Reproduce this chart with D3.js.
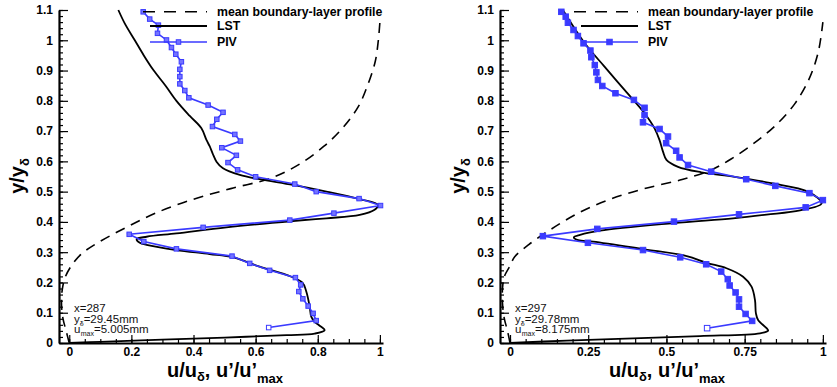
<!DOCTYPE html>
<html>
<head>
<meta charset="utf-8">
<script src="https://cdn.jsdelivr.net/npm/d3@7"></script>
<style>
  body { margin: 0; background: #fff; }
  svg { display: block; }
  text { font-family: Arial, "Liberation Sans", sans-serif; }
</style>
</head>
<body>
<svg id="chart" width="837" height="387"></svg>
<script>
// ---- data ----
const yTicks = [0, 0.1, 0.2, 0.3, 0.4, 0.5, 0.6, 0.7, 0.8, 0.9, 1, 1.1];
const leftXTicks = [0, 0.2, 0.4, 0.6, 0.8, 1];
const rightXTicks = [0, 0.25, 0.5, 0.75, 1];
const legendLabels = ["mean boundary-layer profile", "LST", "PIV"];

// mean boundary-layer profile (dashed)
const leftMeanU = [0, -0.01, -0.02, -0.025, -0.022, -0.012, 0.01, 0.04, 0.09, 0.18, 0.28, 0.4, 0.52, 0.65, 0.74, 0.82, 0.88, 0.93, 0.96, 0.985, 0.995, 1.0];
const leftMeanY = [0, 0.04, 0.08, 0.13, 0.18, 0.22, 0.26, 0.295, 0.33, 0.38, 0.43, 0.475, 0.51, 0.545, 0.59, 0.65, 0.71, 0.78, 0.85, 0.93, 1.0, 1.06];
const rightMeanU = [0, -0.008, -0.018, -0.024, -0.024, -0.018, 0, 0.015, 0.06, 0.13, 0.22, 0.32, 0.43, 0.55, 0.64, 0.71, 0.78, 0.85, 0.91, 0.955, 0.985, 1.0];
const rightMeanY = [0, 0.04, 0.08, 0.13, 0.18, 0.22, 0.255, 0.285, 0.325, 0.375, 0.43, 0.475, 0.51, 0.54, 0.57, 0.61, 0.66, 0.72, 0.79, 0.87, 0.96, 1.06];

// LST (solid black)
const leftLstU = [0.158, 0.179, 0.211, 0.24, 0.272, 0.31, 0.345, 0.388, 0.425, 0.442, 0.452, 0.462, 0.474, 0.495, 0.549, 0.613, 0.72, 0.828, 0.935, 0.994, 0.983, 0.935, 0.828, 0.72, 0.506, 0.345, 0.249, 0.217, 0.227, 0.249, 0.345, 0.452, 0.528, 0.613, 0.699, 0.75, 0.763, 0.774, 0.779, 0.79, 0.805, 0.822, 0.79, 0.7, 0.5, 0.3, 0.1, 0];
const leftLstY = [1.1, 1.055, 1.0, 0.95, 0.9, 0.85, 0.8, 0.75, 0.71, 0.67, 0.65, 0.625, 0.599, 0.577, 0.555, 0.541, 0.522, 0.5, 0.475, 0.456, 0.44, 0.423, 0.412, 0.403, 0.382, 0.362, 0.351, 0.343, 0.331, 0.324, 0.307, 0.294, 0.283, 0.252, 0.225, 0.2, 0.17, 0.12, 0.087, 0.07, 0.058, 0.042, 0.031, 0.026, 0.018, 0.011, 0.004, 0];
const rightLstU = [0.169, 0.239, 0.302, 0.366, 0.43, 0.462, 0.478, 0.489, 0.5, 0.537, 0.611, 0.718, 0.835, 0.952, 0.996, 0.927, 0.82, 0.713, 0.522, 0.288, 0.224, 0.204, 0.218, 0.266, 0.426, 0.565, 0.628, 0.692, 0.745, 0.772, 0.783, 0.786, 0.793, 0.82, 0.825, 0.799, 0.607, 0.394, 0.181, 0];
const rightLstY = [1.1, 0.99, 0.913, 0.836, 0.759, 0.709, 0.67, 0.632, 0.605, 0.582, 0.564, 0.549, 0.528, 0.5, 0.461, 0.438, 0.424, 0.412, 0.396, 0.371, 0.357, 0.349, 0.34, 0.335, 0.31, 0.287, 0.265, 0.247, 0.219, 0.186, 0.142, 0.098, 0.076, 0.049, 0.041, 0.032, 0.023, 0.015, 0.008, 0];

// PIV (blue, squares)
const leftPivU = [0.238, 0.259, 0.287, 0.284, 0.313, 0.329, 0.343, 0.361, 0.356, 0.356, 0.356, 0.372, 0.385, 0.447, 0.495, 0.475, 0.461, 0.533, 0.551, 0.491, 0.538, 0.511, 0.542, 0.6, 0.726, 0.795, 0.933, 1.002, 0.852, 0.71, 0.431, 0.193, 0.24, 0.345, 0.524, 0.581, 0.645, 0.728, 0.745, 0.739, 0.752, 0.769, 0.785, 0.795, 0.642];
const leftPivY = [1.094, 1.07, 1.05, 1.023, 1.001, 0.976, 0.954, 0.929, 0.904, 0.88, 0.856, 0.834, 0.81, 0.786, 0.762, 0.739, 0.715, 0.689, 0.667, 0.645, 0.62, 0.596, 0.572, 0.549, 0.525, 0.5, 0.477, 0.454, 0.429, 0.406, 0.382, 0.359, 0.335, 0.311, 0.287, 0.263, 0.24, 0.216, 0.192, 0.17, 0.146, 0.122, 0.098, 0.074, 0.051];
const rightPivU = [0.164, 0.178, 0.185, 0.203, 0.217, 0.235, 0.257, 0.26, 0.271, 0.276, 0.281, 0.295, 0.337, 0.396, 0.43, 0.43, 0.425, 0.478, 0.505, 0.499, 0.531, 0.542, 0.569, 0.643, 0.755, 0.848, 0.957, 1.0, 0.945, 0.732, 0.524, 0.279, 0.105, 0.249, 0.425, 0.544, 0.627, 0.675, 0.696, 0.702, 0.721, 0.732, 0.732, 0.753, 0.774, 0.63];
const rightPivY = [1.094, 1.078, 1.058, 1.034, 1.014, 0.99, 0.966, 0.944, 0.918, 0.894, 0.869, 0.849, 0.825, 0.803, 0.777, 0.753, 0.729, 0.707, 0.682, 0.66, 0.635, 0.613, 0.588, 0.566, 0.541, 0.519, 0.495, 0.472, 0.448, 0.425, 0.401, 0.377, 0.353, 0.331, 0.307, 0.283, 0.26, 0.236, 0.211, 0.19, 0.167, 0.144, 0.12, 0.096, 0.073, 0.049];

// station info
const leftInfo = ["287", "29.45mm", "5.005mm"];
const rightInfo = ["297", "29.78mm", "8.175mm"];

const blue = "#3a3aff";
const svg = d3.select("#chart");
svg.append("rect").attr("width", 837).attr("height", 387).attr("fill", "#fff");

function zip(us, ys) {
  return us.map((u, i) => ({ u: u, y: ys[i] }));
}

function drawPanel(p) {
  const x = d3.scaleLinear().domain([p.uMin, 1.01]).range([p.x0, p.x1]);
  const y = d3.scaleLinear().domain([0, 1.1]).range([343, 10]);
  const g = svg.append("g");

  // minor ticks first
  const minorX = d3.range(0, 1.0001, 0.05);
  const minorY = d3.range(0, 1.1001, 0.02);
  g.append("g")
    .attr("transform", "translate(0,343)")
    .call(d3.axisBottom(x).tickValues(minorX).tickSize(-4).tickFormat(""))
    .call((a) => a.select(".domain").remove());
  g.append("g")
    .attr("transform", `translate(${p.x0},0)`)
    .call(d3.axisLeft(y).tickValues(minorY).tickSize(-4).tickFormat(""))
    .call((a) => a.select(".domain").remove());

  const xAxis = g.append("g")
    .attr("transform", "translate(0,343)")
    .call(d3.axisBottom(x).tickValues(p.xTicks).tickFormat((d) => String(d))
      .tickSize(-8).tickSizeOuter(0).tickPadding(4));
  const yAxis = g.append("g")
    .attr("transform", `translate(${p.x0},0)`)
    .call(d3.axisLeft(y).tickValues(yTicks).tickFormat((d) => String(d))
      .tickSize(-9).tickSizeOuter(0).tickPadding(6));

  [xAxis, yAxis].forEach((a) => {
    a.select(".domain").attr("stroke-width", 2.2);
    a.selectAll("text").attr("font-size", 12).attr("font-weight", "bold").attr("fill", "#000");
  });
  g.selectAll(".tick line").attr("stroke-width", 1.2);

  const line = d3.line().x((d) => x(d.u)).y((d) => y(d.y));

  g.append("path")
    .attr("d", line.curve(d3.curveCatmullRom.alpha(0.5))(zip(p.meanU, p.meanY)))
    .attr("fill", "none").attr("stroke", "#000").attr("stroke-width", 1.6)
    .attr("stroke-dasharray", "10,7");

  g.append("path")
    .attr("d", line.curve(d3.curveCatmullRom.alpha(0.5))(zip(p.lstU, p.lstY)))
    .attr("fill", "none").attr("stroke", "#000").attr("stroke-width", 1.8);

  const piv = zip(p.pivU, p.pivY);
  g.append("path")
    .attr("d", line.curve(d3.curveLinear)(piv))
    .attr("fill", "none").attr("stroke", blue).attr("stroke-width", 1.6);

  const s = p.markSize;
  g.selectAll("rect.mk").data(piv).enter().append("rect")
    .attr("x", (d) => x(d.u) - s / 2).attr("y", (d) => y(d.y) - s / 2)
    .attr("width", s).attr("height", s)
    .attr("fill", (d, i) => (i === piv.length - 1 ? "#fff" : p.markFill))
    .attr("stroke", blue).attr("stroke-width", 1);

  // legend
  const lg = g.append("g");
  const lx = p.legendX;
  lg.append("line").attr("x1", lx - 74).attr("x2", lx - 10).attr("y1", 11.7).attr("y2", 11.7)
    .attr("stroke", "#000").attr("stroke-width", 1.6).attr("stroke-dasharray", "12,9");
  lg.append("line").attr("x1", lx - 67).attr("x2", lx - 10).attr("y1", 26).attr("y2", 26)
    .attr("stroke", "#000").attr("stroke-width", 1.8);
  lg.append("line").attr("x1", lx - 67).attr("x2", lx - 10).attr("y1", 42).attr("y2", 42)
    .attr("stroke", blue).attr("stroke-width", 1.6);
  lg.append("rect").attr("x", lx - 38.5 - s / 2).attr("y", 42 - s / 2).attr("width", s).attr("height", s)
    .attr("fill", p.markFill).attr("stroke", blue).attr("stroke-width", 1);
  [15.7, 30, 45.7].forEach((by, i) => {
    lg.append("text").attr("x", lx).attr("y", by).attr("font-size", 12.3)
      .attr("font-weight", "bold").text(legendLabels[i]);
  });

  // axis titles
  const yt = g.append("text")
    .attr("transform", `translate(${p.yTitleX},176) rotate(-90)`)
    .attr("text-anchor", "middle").attr("font-size", 20).attr("font-weight", "bold");
  yt.append("tspan").text("y/y");
  yt.append("tspan").attr("font-size", 13).attr("dy", 5).text("δ");

  const xt = g.append("text")
    .attr("x", (p.x0 + p.x1) / 2 + 4).attr("y", 377)
    .attr("text-anchor", "middle").attr("font-size", 20).attr("font-weight", "bold");
  xt.append("tspan").text("u/u");
  xt.append("tspan").attr("font-size", 13).attr("dy", 4).text("δ");
  xt.append("tspan").attr("dy", -4).text(", u’/u’");
  xt.append("tspan").attr("font-size", 13).attr("dy", 6).text("max");

  // station annotation
  const ax = p.x0 + 15;
  const info = p.info;
  g.append("text").attr("x", ax).attr("y", 312).attr("font-size", 11.5).attr("fill", "#111")
    .text("x=" + info[0]);
  const t2 = g.append("text").attr("x", ax).attr("y", 322.5).attr("font-size", 11.5).attr("fill", "#111");
  t2.append("tspan").text("y");
  t2.append("tspan").attr("font-size", 7).attr("dy", 3).text("δ");
  t2.append("tspan").attr("dy", -3).text("=" + info[1]);
  const t3 = g.append("text").attr("x", ax).attr("y", 333).attr("font-size", 11.5).attr("fill", "#111");
  t3.append("tspan").text("u");
  t3.append("tspan").attr("font-size", 7).attr("dy", -5).text("'");
  t3.append("tspan").attr("font-size", 7).attr("dy", 8).attr("dx", -1).text("max");
  t3.append("tspan").attr("dy", -3).text("=" + info[2]);
}

drawPanel({
  x0: 59, x1: 383, uMin: -0.033, xTicks: leftXTicks,
  meanU: leftMeanU, meanY: leftMeanY, lstU: leftLstU, lstY: leftLstY,
  pivU: leftPivU, pivY: leftPivY, markSize: 4.5, markFill: "#7474ff",
  legendX: 217, yTitleX: 24, info: leftInfo
});
drawPanel({
  x0: 500, x1: 826, uMin: -0.032, xTicks: rightXTicks,
  meanU: rightMeanU, meanY: rightMeanY, lstU: rightLstU, lstY: rightLstY,
  pivU: rightPivU, pivY: rightPivY, markSize: 5.5, markFill: blue,
  legendX: 648, yTitleX: 465, info: rightInfo
});
</script>
</body>
</html>
